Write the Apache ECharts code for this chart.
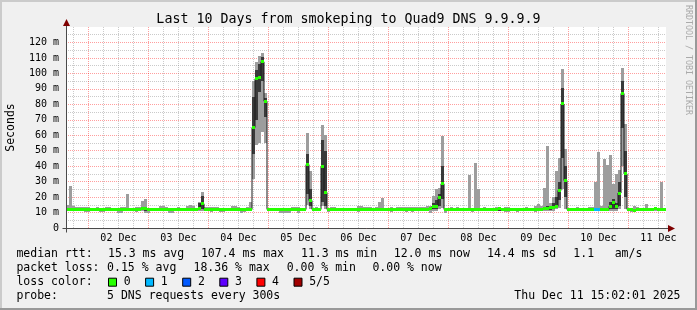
<!DOCTYPE html>
<html><head><meta charset="utf-8">
<script src="https://cdn.jsdelivr.net/npm/echarts@6/dist/echarts.min.js"></script>
<style>html,body{margin:0;padding:0;background:#f0f0f0}#c{width:697px;height:310px}</style>
</head><body><div id="c"></div>
<script>
// time in hours since Dec 1 00:00
const startHour = 15.033;   // Dec 1 15:02
const endHour = 255.033;    // Dec 11 15:02
const binHours = 1.2;

const medianRtt = [
12,12,12,12,12,12,12,12,12,12,
12,12,12,12,12,12,12,12,12,12,
12,12,12,12,12,12.6,12.6,12,12,12,
12,12,12,12,12,12,12,12,12,12,
12,12,12,12,12.5,15.7,12,12,12,12,
12,12,12,12,12,12,12,12,12,12,
12,12,65,96.5,97.5,107.5,82,12,12,12,
12,12,12,12,12,12,12,12,12,12,
41,17.8,12,12,12,39.8,23,12,12,12,
12,12,12,12,12,12,12,12,12,12,
12,12,12,12,12,12,12,12,12,12,
12,12,12,12,12,12,12,12,12,12,
12,12.5,14,14,19.8,28.6,12,12,12,12,
12,12,12,12,12,12,12,12,12,12,
12,12,12,12,12.3,12,12,12,11.8,11.8,
12,12,12,12,12,12,12,12,12,12.5,
12.8,13,13.3,14,24.3,80.2,30.7,12,12,12,
12,12,12,12,12,12,12,12,12,12,
12,14,16.5,13.6,22.6,87,35,12,12,11.5,
12,12,12,12,12,12,12.6,12,12,12];

const minRtt = [
11,11,11,11,11,11,10.5,10.5,11,11,
11,10.3,10.3,11,11,11,11,10,9.8,11,
11,11,11,10.5,11,11,10,10,11,11,
11,11,11,11,10,10,11,11,11,11,
11,11,11,11,11,11,11,11,10.5,11,
11,10.5,10.5,11,11,11,11,11,9.8,10.5,
11,11,32,54,55,62,55,11,11,11,
11,9.8,9.8,9.8,9.8,11,11,9.8,11,11,
15,12,11,11,11,14,12,10.5,11,11,
11,11,11,11,11,11,11,10.5,11,11,
11,11,11,11,11,11,11,11,10.3,11,
11,11,11,10.5,11,10.5,11,11,11,11,
11,9.5,11,11,12,13,10,11,11,11,
11,11,11,11,11,10.5,11,11,11,11,
11,11,11,11,11,11,10.5,10.5,11,11,
10.5,11,11,11,11,11,10.5,11,11,11,
11,11,11,12,13,25,12,11,11,11,
11,11,11,11,11,11,11,11,11,11,
11,11,11,11,12,40,12,11,10.5,11,
11,11,11,11,11,11,11,11,11,11];

const lowRtt = [
11.6,11.6,11.6,11.6,11.6,11.6,11.6,11.6,11.6,11.6,
11.6,11.6,11.6,11.6,11.6,11.6,11.6,11.6,11.6,11.6,
11.6,11.6,11.6,11.6,11.6,11.6,11,11.6,11.6,11.6,
11.6,11.6,11.6,11.6,11.6,11.6,11.6,11.6,11.6,11.6,
11.6,11.6,11.6,11.6,12,12,11.6,11.6,11.6,11.6,
11.6,11.6,11.6,11.6,11.6,11.6,11.6,11.6,11.6,11.6,
11.6,11.6,48,70,88,95,72,11.6,11.6,11.6,
11.6,11.6,11.6,11.6,11.6,11.6,11.6,11.6,11.6,11.6,
22,14,11.6,11.6,11.6,17,14,11.6,11.6,11.6,
11.6,11.6,11.6,11.6,11.6,11.6,11.6,11.6,11.6,11.6,
11.6,11.6,11.6,11.6,11.6,11.6,11.6,11.6,11.6,11.6,
11.6,11.6,11.6,11.6,11.6,11.6,11.6,11.6,11.6,11.6,
11.6,11.5,12,12.5,14,19,11.6,11.6,11.6,11.6,
11.6,11.6,11.6,11.6,11.6,11.6,11.6,11.6,11.6,11.6,
11.6,11.6,11.6,11.6,11.2,11.6,11.6,11.6,11.6,11.6,
11.6,11.6,11.6,11.6,11.6,11.6,11.6,11.6,11.6,11.6,
11.5,11.5,12,13,18,45,20,11.6,11.6,11.6,
11.6,11.6,11.6,11.6,11.6,11.6,11.6,11.6,11.6,11.6,
11.3,12,12,12,14,65,20,11.6,11.6,11.6,
11.6,11.6,11.6,11.6,11.6,11.6,11.6,11.6,11.6,11.6];

const highRtt = [
12.4,12.4,12.4,12.4,12.4,12.4,12.4,12.4,12.4,12.4,
12.4,12.4,12.4,12.4,12.4,12.4,12.4,12.4,12.4,12.4,
12.4,12.4,12.4,12.4,12.4,12.4,12.4,12.4,12.4,12.4,
12.4,12.4,12.4,12.4,12.4,12.4,12.4,12.4,12.4,12.4,
12.4,12.4,12.4,12.4,16,20.4,12.4,12.4,12.4,12.4,
12.4,12.4,12.4,12.4,12.4,12.4,12.4,12.4,12.4,12.4,
12.4,12.4,85,102,106,110.7,84,12.4,12.4,12.4,
12.4,12.4,12.4,12.4,12.4,12.4,12.4,12.4,12.4,12.4,
48,25,12.4,12.4,12.4,57,50,12.4,12.4,12.4,
12.4,12.4,12.4,12.4,12.4,12.4,12.4,12.4,12.4,12.4,
12.4,12.4,12.4,12.4,12.4,12.4,12.4,12.4,12.4,12.4,
12.4,12.4,12.4,12.4,12.4,12.4,12.4,12.4,12.4,12.4,
12.4,13.5,16,18,22,40,12.4,12.4,12.4,12.4,
12.4,12.4,12.4,12.4,12.4,12.4,12.4,12.4,12.4,12.4,
12.4,12.4,12.4,12.4,12.6,12.4,12.4,12.4,12.4,12.4,
12.4,12.4,12.4,12.4,12.4,12.4,12.4,12.4,12.4,13.5,
14,14.5,16,20,30,90.3,40,12.4,12.4,12.4,
12.4,12.4,12.4,12.4,12.4,12.4,12.4,12.4,12.4,12.4,
12.8,16.5,19,16,30,95,50,12.4,12.4,12.4,
12.4,12.4,12.4,12.4,12.4,12.4,12.4,12.4,12.4,12.4];

const maxRtt = [
15,27,14,13.3,13.3,13.3,13.3,13.3,13,13,
13.3,13,13,13.3,13.3,13,13,13,13.3,13.3,
22,13,13,13.9,13.9,17.2,18.8,13,13,13,
13,14.5,14.5,13.3,13,13,13,13.3,13,13,
14,14.7,14.5,13,16.5,23,13.3,13.3,13.3,13.3,
13.3,13,13,13,13,14.2,14.5,13.3,13,13,
13.3,16.5,95,107.5,111,113,87,13,13,13,
13,13,13,13,13,13.3,13.3,13.3,13,13,
61.5,37,13,13.3,13,66.6,60,13,13.3,13.3,
13,13,13,13,13,13,13,14.5,14.5,13.3,
13.3,13.3,13,13.3,17,19.3,13,13,13.3,13,
13.3,13.3,13.3,13.3,13.3,13.3,13.3,13.3,13.3,13.3,
14.5,14.5,21,25,26,59.5,13,13,13.3,13,
13.3,13,13,13,34.4,13,42.3,25,13,13.3,
13,13,13,13.3,13.5,13,13.3,13.3,13,13,
13,13,13,13.5,13,13,14.5,15.7,14,26,
53,16,20,37,45,102.8,51,13,13,13,
13.3,13,13,13,13.3,13.3,30,49,14,44.5,
41,47.3,28.5,35,37.6,103.5,67,13,13,14,
13.5,13,13,15.2,13,13,13.5,13,30,13];

const lossCount = [
0,0,0,0,0,0,0,0,0,0, 0,0,0,0,0,0,0,0,0,0,
0,0,0,0,0,0,0,0,0,0, 0,0,0,0,0,0,0,0,0,0,
0,0,0,0,0,0,0,0,0,0, 0,0,0,0,0,0,0,0,0,0,
0,0,0,0,0,0,0,0,0,0, 0,0,0,0,0,0,0,0,0,0,
0,0,0,0,0,0,0,0,0,0, 0,0,0,0,0,0,0,0,0,0,
0,0,0,0,0,0,0,0,0,0, 0,0,0,0,0,0,0,0,0,0,
0,0,0,0,0,0,0,0,0,0, 0,0,0,0,0,0,0,0,0,0,
0,0,0,0,0,0,0,0,0,0, 0,0,0,0,0,0,0,0,0,0,
0,0,0,0,0,0,0,0,0,0, 0,0,0,0,0,0,1,1,0,0,
0,0,0,0,0,0,0,0,0,0, 0,0,0,0,0,0,0,0,0,0];

const dayLabels = ['02 Dec','03 Dec','04 Dec','05 Dec','06 Dec','07 Dec','08 Dec','09 Dec','10 Dec','11 Dec'];
const dayNoonHours = [36,60,84,108,132,156,180,204,228,252];
const dayStartHours = [24,48,72,96,120,144,168,192,216,240];
const yTickValues = [0,10,20,30,40,50,60,70,80,90,100,110,120];

const titleText = 'Last 10 Days from smokeping to Quad9 DNS 9.9.9.9';
const yAxisTitle = 'Seconds';
const watermark = 'RRDTOOL / TOBI OETIKER';
const rttLabel = 'median rtt:';
const rttStats = ['15.3 ms avg','107.4 ms max','11.3 ms min','12.0 ms now','14.4 ms sd','1.1','am/s'];
const lossLabel = 'packet loss:';
const lossStats = ['0.15 % avg','18.36 % max','0.00 % min','0.00 % now'];
const lossColorLabel = 'loss color:';
const lossLegend = ['0','1','2','3','4','5/5'];
const lossColors = ['#26ff00','#00b8ff','#0059ff','#5e00ff','#ff0000','#a10000'];
const probeLabel = 'probe:';
const probeText = '5 DNS requests every 300s';
const dateText = 'Thu Dec 11 15:02:01 2025';

// minor grid every 6 hours (not at midnight)
const sixHourHours = [];
[0].concat(dayStartHours).forEach(d => [6,12,18].forEach(h => {
  const v = d + h; if (v > startHour && v < endHour) sixHourHours.push(v);
}));

const MONO = "'DejaVu Sans Mono', monospace";
const binData = medianRtt.map((m, i) => [startHour + i * binHours, startHour + (i + 1) * binHours,
  minRtt[i], lowRtt[i], highRtt[i], maxRtt[i], m, lossCount[i]]);

function smokeItem(params, api) {
  const a = api.coord([api.value(0), api.value(5)]);
  const b = api.coord([api.value(1), api.value(2)]);
  const c = api.coord([api.value(0), api.value(4)]);
  const d = api.coord([api.value(1), api.value(3)]);
  const t1 = Math.round(a[1]), b1 = Math.round(b[1]);
  const t2 = Math.round(c[1]), b2 = Math.round(d[1]);
  return {type: 'group', children: [
    {type: 'rect', shape: {x: a[0], y: t1, width: b[0] - a[0], height: Math.max(0, b1 - t1)}, style: {fill: '#9d9d9d'}},
    {type: 'rect', shape: {x: c[0], y: t2, width: d[0] - c[0], height: Math.max(0, b2 - t2)}, style: {fill: '#3a3a3a'}}
  ]};
}
function medianItem(params, api) {
  const a = api.coord([api.value(0), api.value(6)]);
  const b = api.coord([api.value(1), api.value(6)]);
  return {type: 'rect', shape: {x: a[0], y: Math.round(a[1] - 1.5), width: b[0] - a[0], height: 3},
    style: {fill: lossColors[api.value(7)]}};
}

const redGrid = {color: 'rgba(255,0,0,0.38)', type: [1, 1], width: 1};
const greyGrid = {color: 'rgba(128,128,128,0.42)', type: [1, 1], width: 1};

const chart = echarts.init(document.getElementById('c'), null, {renderer: 'canvas', width: 697, height: 310});
chart.setOption({
  backgroundColor: '#f0f0f0',
  animation: false,
  grid: {left: 66, top: 27, width: 600, height: 201, show: true, backgroundColor: '#ffffff', borderWidth: 0},
  xAxis: [
    {type: 'value', min: startHour, max: endHour, axisLine: {show: false},
     axisTick: {show: false, customValues: dayStartHours},
     axisLabel: {customValues: dayNoonHours, formatter: v => dayLabels[dayNoonHours.indexOf(Math.round(v))] || '',
       fontFamily: MONO, fontSize: 10, color: '#000', margin: 5},
     splitLine: {show: true, lineStyle: redGrid}},
    {type: 'value', min: startHour, max: endHour, position: 'top', axisLine: {show: false},
     axisTick: {show: false, customValues: sixHourHours}, axisLabel: {show: false},
     splitLine: {show: true, lineStyle: greyGrid}}
  ],
  yAxis: [{type: 'value', min: 0, max: 130, interval: 10, axisLine: {show: false},
    axisTick: {show: false, customValues: yTickValues},
    axisLabel: {customValues: yTickValues, formatter: v => v === 0 ? '0' : v + ' m',
      fontFamily: MONO, fontSize: 10, color: '#000', margin: 7},
    splitLine: {show: true, lineStyle: redGrid},
    minorTick: {show: false, splitNumber: 2},
    minorSplitLine: {show: true, lineStyle: greyGrid}}],
  series: [
    {type: 'custom', name: 'smoke', xAxisIndex: 0, yAxisIndex: 0, renderItem: smokeItem,
     encode: {x: [0, 1], y: [2, 5]}, data: binData, z: 2, silent: true, clip: true},
    {type: 'line', name: 'median', xAxisIndex: 0, yAxisIndex: 0, step: 'middle', symbol: 'none',
     data: binData.map(b => [(b[0] + b[1]) / 2, b[6]]), lineStyle: {color: '#1a1a1a', width: 1}, z: 3, silent: true},
    {type: 'custom', name: 'loss', xAxisIndex: 0, yAxisIndex: 0, renderItem: medianItem,
     encode: {x: [0, 1], y: 6}, data: binData, z: 4, silent: true, clip: true}
  ]
});

// decorations: frame, axes with arrows, texts
const o = chart.convertToPixel({gridIndex: 0}, [startHour, 0]);
const e = chart.convertToPixel({gridIndex: 0}, [endHour, 130]);
const ax = Math.round(o[0]) + 0.5, ay = Math.round(o[1]) + 0.5;
const txt = (x, y, s, extra) => Object.assign({type: 'text', x: x, y: y, silent: true,
  style: Object.assign({text: s, fill: '#000', font: "11.5px 'DejaVu Sans Mono'", verticalAlign: 'middle', align: 'left'}, extra && extra.style || {})},
  extra && extra.rotation !== undefined ? {rotation: extra.rotation} : {});
const g = [
  {type: 'rect', shape: {x: 0, y: 0, width: 697, height: 2}, style: {fill: '#cbcbcb'}},
  {type: 'rect', shape: {x: 0, y: 0, width: 2, height: 310}, style: {fill: '#cbcbcb'}},
  {type: 'rect', shape: {x: 0, y: 308, width: 697, height: 2}, style: {fill: '#999999'}},
  {type: 'rect', shape: {x: 695, y: 0, width: 2, height: 310}, style: {fill: '#999999'}},
  {type: 'line', shape: {x1: ax - 4, y1: ay, x2: e[0] + 4, y2: ay}, style: {stroke: '#4a4a4a', lineWidth: 1}, z: 50},
  {type: 'line', shape: {x1: ax, y1: ay + 4, x2: ax, y2: e[1] - 4}, style: {stroke: '#4a4a4a', lineWidth: 1}, z: 50},
  {type: 'polygon', shape: {points: [[ax, e[1] - 8], [ax - 3.5, e[1] - 1], [ax + 3.5, e[1] - 1]]}, style: {fill: '#7f0000'}, z: 51},
  {type: 'polygon', shape: {points: [[e[0] + 9, ay], [e[0] + 2, ay - 3.5], [e[0] + 2, ay + 3.5]]}, style: {fill: '#7f0000'}, z: 51},
  txt(348.5, 19.3, titleText, {style: {align: 'center', font: "13.3px 'DejaVu Sans Mono'"}}),
  txt(11, (o[1] + e[1]) / 2, yAxisTitle, {rotation: Math.PI / 2, style: {align: 'center'}}),
  txt(688.5, 5, watermark, {rotation: -Math.PI / 2, style: {fill: '#aaaaaa', font: "8.3px 'DejaVu Sans Mono'"}})
];
const rows = [254.5, 268.3, 282.2, 296];
g.push(txt(16.4, rows[0], rttLabel));
[108, 200.9, 301, 393.8, 487, 573.3, 614.7].forEach((x, i) => g.push(txt(x, rows[0], rttStats[i])));
g.push(txt(16.4, rows[1], lossLabel));
[107.1, 193.5, 286.7, 372.4].forEach((x, i) => g.push(txt(x, rows[1], lossStats[i])));
g.push(txt(16.4, rows[2], lossColorLabel));
lossLegend.forEach((s, i) => {
  const bx = 108.5 + i * 37.1;
  g.push({type: 'rect', shape: {x: bx, y: rows[2] - 4, width: 8, height: 8}, style: {fill: lossColors[i], stroke: '#000', lineWidth: 1}});
  g.push(txt(bx + 15.2, rows[2], s));
});
g.push(txt(16.4, rows[3], probeLabel));
g.push(txt(107.1, rows[3], probeText));
g.push(txt(680.5, rows[3], dateText, {style: {align: 'right'}}));
chart.setOption({graphic: {elements: g}});
</script></body></html>
